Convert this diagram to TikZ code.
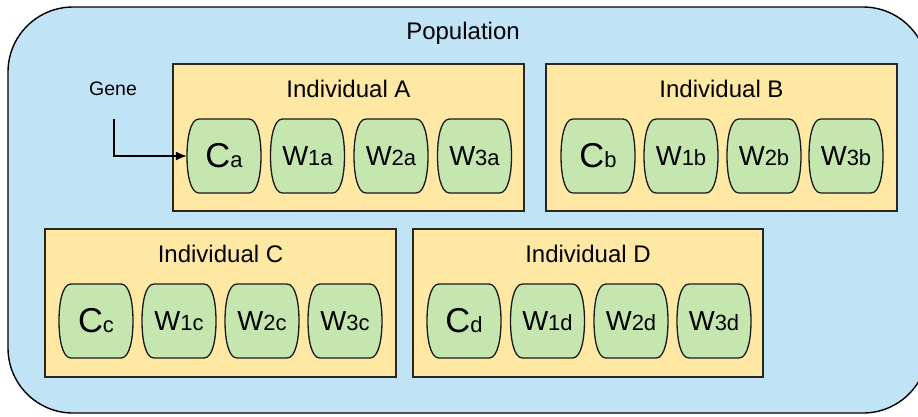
\documentclass[tikz,border=0pt]{standalone}
\usepackage{fontspec}
\setmainfont{Liberation Sans}
\definecolor{popblue}{HTML}{C1E3F6}
\definecolor{indyellow}{HTML}{FFE8A4}
\definecolor{genegreen}{HTML}{C6E6B0}
\usetikzlibrary{arrows.meta}
\tikzset{
  popbox/.style={draw=black, fill=popblue, line width=1.4pt, rounded corners=65pt},
  indbox/.style={draw=black!85, fill=indyellow, line width=1.4pt},
  shapegene/.style={draw=black!90, fill=genegreen, line width=1.3pt},
  genetext/.style={minimum width=74pt, minimum height=74pt, inner sep=0pt},
  titletext/.style={font=\fontsize{24}{28}\selectfont, inner sep=0pt},
  arrowline/.style={line width=1.3pt, -{Latex[length=11pt,width=9pt]}},
}
\newcommand\Cg[2]{{\fontsize{34.5}{38}\selectfont #1}{\fontsize{22}{24}\selectfont #2}}
\newcommand\Wg[2]{{\fontsize{27.5}{30}\selectfont W}{\fontsize{22}{24}\selectfont #1#2}}
% #1 name, #2 x, #3 y (top-left), #4 text
\newcommand\genenode[4]{%
  \path[shapegene] ({#2+12},{#3}) -- ({#2+62},{#3})
    .. controls ({#2+71},{#3}) and ({#2+74},{#3+20}) .. ({#2+74},{#3+37})
    .. controls ({#2+74},{#3+54}) and ({#2+71},{#3+74}) .. ({#2+62},{#3+74})
    -- ({#2+12},{#3+74})
    .. controls ({#2+3},{#3+74}) and ({#2},{#3+54}) .. ({#2},{#3+37})
    .. controls ({#2},{#3+20}) and ({#2+3},{#3}) .. cycle;
  \node[genetext] (#1) at ({#2+37},{#3+37}) {#4};
}
\begin{document}
\begin{tikzpicture}[x=1pt,y=-1pt]
\useasboundingbox (0,0) rectangle (918,416);
\clip (0,0) rectangle (918,416);
\path[popbox] (8,7) rectangle (928,413);
\node[titletext] (pop) at (463,33) {Population};

% Individual boxes
\path[indbox] (173,64) rectangle (524,211);
\node[titletext] (tA) at (348.5,89) {Individual A};
\path[indbox] (546,64) rectangle (897,211);
\node[titletext] (tB) at (721.5,89) {Individual B};
\path[indbox] (45,229) rectangle (396,377);
\node[titletext] (tC) at (220.5,254) {Individual C};
\path[indbox] (413,229) rectangle (763,377);
\node[titletext] (tD) at (588,254) {Individual D};

% genes A
\genenode{ca}{187}{119}{\Cg{C}{a}}
\genenode{w1a}{270.5}{119}{\Wg{1}{a}}
\genenode{w2a}{354}{119}{\Wg{2}{a}}
\genenode{w3a}{437.5}{119}{\Wg{3}{a}}
% genes B
\genenode{cb}{561}{119}{\Cg{C}{b}}
\genenode{w1b}{644}{119}{\Wg{1}{b}}
\genenode{w2b}{727}{119}{\Wg{2}{b}}
\genenode{w3b}{809}{119}{\Wg{3}{b}}
% genes C
\genenode{cc}{59}{284}{\Cg{C}{c}}
\genenode{w1c}{142}{284}{\Wg{1}{c}}
\genenode{w2c}{225}{284}{\Wg{2}{c}}
\genenode{w3c}{308}{284}{\Wg{3}{c}}
% genes D
\genenode{cd}{427}{284}{\Cg{C}{d}}
\genenode{w1d}{510.5}{284}{\Wg{1}{d}}
\genenode{w2d}{594}{284}{\Wg{2}{d}}
\genenode{w3d}{677}{284}{\Wg{3}{d}}

% Gene label and arrow
\node[font=\fontsize{19.5}{22}\selectfont, inner sep=0pt] (gene) at (113,89) {Gene};
\coordinate (gstart) at (114,119);
\draw[arrowline] (gstart) |- (ca.west);
\end{tikzpicture}
\end{document}
